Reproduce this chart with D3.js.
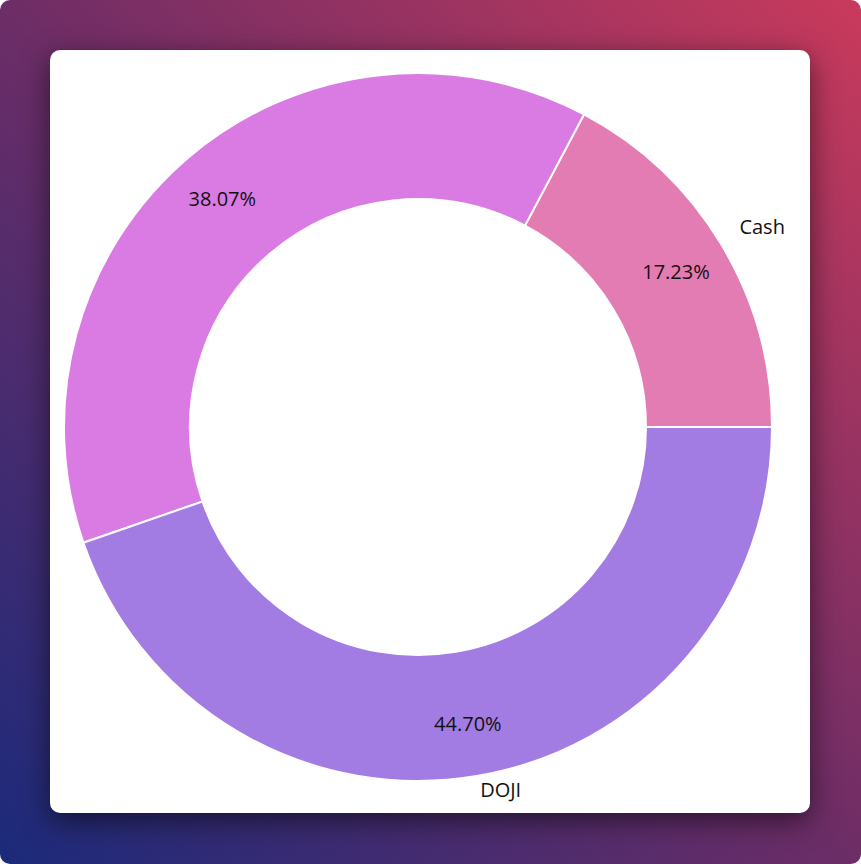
<!DOCTYPE html>
<html>
<head>
<meta charset="utf-8">
<script src="https://cdn.jsdelivr.net/npm/d3@7"></script>
<style>
  html, body { margin: 0; padding: 0; background: #fff; }
  #page {
    position: absolute; left: 0; top: 0; width: 861px; height: 864px;
    border-radius: 10px;
    background: linear-gradient(45deg, #1b2a7b 0%, #6d2d66 50%, #c93a5c 100%);
  }
  #card {
    position: absolute; left: 50px; top: 50px; width: 760px; height: 763px;
    background: #fff; border-radius: 10px;
    box-shadow: 0 8px 28px rgba(0, 0, 0, 0.55);
  }
  text { font-family: "Segoe UI", "Open Sans", "Noto Sans", sans-serif; font-size: 20px; fill: #111; }
</style>
</head>
<body>
<div id="page"><div id="card"><svg id="viz" width="760" height="763"></svg></div></div>
<script>
const labels = ["Cash", "", "DOJI"];
const values = [17.23, 38.07, 44.70];
const colors = ["#e47cb4", "#d97be3", "#a37ce3"];

const svg = d3.select("#viz");
const cx = 368, cy = 377;
const outerR = 354, innerR = 228;

const g = svg.append("g").attr("transform", `translate(${cx},${cy})`);

const pie = d3.pie()
  .sort(null)
  .value(d => d.value)
  .startAngle(Math.PI / 2)
  .endAngle(Math.PI / 2 - 2 * Math.PI);

const data = labels.map((l, i) => ({ label: l, value: values[i], color: colors[i] }));
const arcs = pie(data);

const arc = d3.arc().innerRadius(innerR).outerRadius(outerR);
const pctArc = d3.arc().innerRadius(301).outerRadius(301);
const labelArc = d3.arc().innerRadius(375).outerRadius(375);

g.selectAll("path.slice")
  .data(arcs)
  .join("path")
  .attr("class", "slice")
  .attr("d", arc)
  .attr("fill", d => d.data.color)
  .attr("stroke", "#fff")
  .attr("stroke-width", 2);

const total = d3.sum(values);

g.selectAll("text.pct")
  .data(arcs)
  .join("text")
  .attr("class", "pct")
  .attr("transform", d => `translate(${pctArc.centroid(d)})`)
  .attr("text-anchor", "middle")
  .attr("dominant-baseline", "central")
  .text(d => (d.data.value / total * 100).toFixed(2) + "%");

// outer category labels sit on their baseline
g.selectAll("text.lbl")
  .data(arcs.filter(d => d.data.label))
  .join("text")
  .attr("class", "lbl")
  .attr("transform", d => `translate(${labelArc.centroid(d)})`)
  .attr("text-anchor", d => labelArc.centroid(d)[0] >= 0 ? "start" : "end")
  .text(d => d.data.label);
</script>
</body>
</html>
